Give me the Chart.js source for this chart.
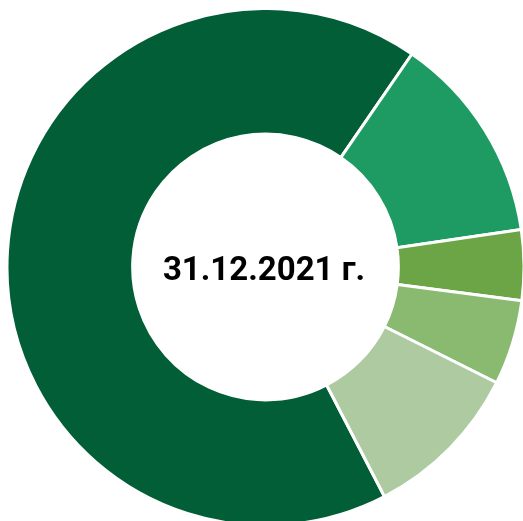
<!DOCTYPE html>
<html>
<head>
<meta charset="utf-8">
<script src="https://cdn.jsdelivr.net/npm/chart.js@4/dist/chart.umd.min.js"></script>
<style>
  html, body { margin: 0; padding: 0; background: #ffffff; overflow: hidden; width: 523px; height: 521px; }
  #wrap { position: absolute; left: 8px; top: 10px; width: 515px; height: 514px; }
</style>
</head>
<body>
<div id="wrap"><canvas id="c"></canvas></div>
<script>
const categories = ['Сегмент 1', 'Сегмент 2', 'Сегмент 3', 'Сегмент 4', 'Сегмент 5'];
const shares = [67.2, 13.1, 4.4, 5.3, 10.0];
const sliceColors = ['#025E36', '#1D9B62', '#6CA545', '#8ABA6F', '#ADCAA0'];
const centerLabel = '31.12.2021 г.';

const centerText = {
  id: 'centerText',
  afterDraw(chart) {
    const ctx = chart.ctx;
    const meta = chart.getDatasetMeta(0);
    const arc = meta.data[0];
    const cx = arc.x, cy = arc.y;
    ctx.save();
    ctx.fillStyle = '#000000';
    ctx.font = 'bold 33px Roboto';
    ctx.textAlign = 'center';
    ctx.textBaseline = 'alphabetic';
    ctx.fillText(centerLabel, cx - 1.5, cy + 12.5);
    ctx.restore();
  }
};

new Chart(document.getElementById('c'), {
  type: 'doughnut',
  data: {
    labels: categories,
    datasets: [{
      data: shares,
      backgroundColor: sliceColors,
      borderColor: '#ffffff',
      borderWidth: 3,
      hoverOffset: 0
    }]
  },
  options: {
    responsive: true,
    maintainAspectRatio: false,
    animation: false,
    rotation: 152.6,
    radius: 258.5,
    cutout: '51.4%',
    layout: { padding: 0 },
    plugins: {
      legend: { display: false },
      tooltip: { enabled: false }
    }
  },
  plugins: [centerText]
});
</script>
</body>
</html>
